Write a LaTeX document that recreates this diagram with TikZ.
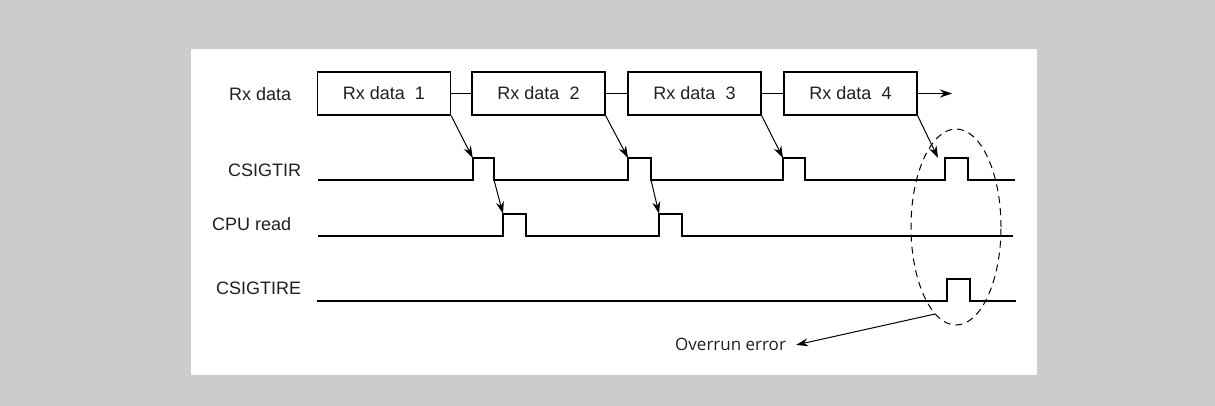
\documentclass[tikz,border=0pt]{standalone}
\usepackage{fontspec}
\setmainfont{Liberation Sans}
\newfontfamily\ovfont{Open Sans}
\usetikzlibrary{arrows.meta,shapes.geometric}
\definecolor{bggray}{RGB}{204,204,204}
\definecolor{txt}{RGB}{35,31,32}
\begin{document}
\begin{tikzpicture}[x=1pt,y=-1pt,
  lbl/.style={font=\fontsize{18}{20}\selectfont, inner sep=0pt, text=txt},
  databox/.style={draw, line width=1.2pt, minimum width=133pt, minimum height=43pt, inner sep=0pt, font=\fontsize{18}{20}\selectfont, text=txt},
  sig/.style={line width=1.9pt, line join=miter},
  link/.style={line width=1pt},
  evarrow/.style={line width=1pt, -{Stealth[length=12pt,width=8pt]}}]
\useasboundingbox (0,0) rectangle (1215,406);
\fill[bggray] (0,0) rectangle (1215,406);
\fill[white] (191,49) rectangle (1037,375);

% labels
\node[lbl, anchor=west] (lrx) at (229,94) {Rx data};
\node[lbl, anchor=west] (ltir) at (228,170) {CSIGTIR};
\node[lbl, anchor=west] (lcpu) at (212,224) {CPU read};
\node[lbl, anchor=west] (ltire) at (216,288) {CSIGTIRE};

% data boxes
\node[databox] (b1) at (384,93.5) {Rx data\ \ 1};
\node[databox] (b2) at (538.5,93.5) {Rx data\ \ 2};
\node[databox] (b3) at (694.5,93.5) {Rx data\ \ 3};
\node[databox] (b4) at (850.5,93.5) {Rx data\ \ 4};
\coordinate (bend) at (952,93.5);
\draw[link] (b1.east) -- (b2.west);
\draw[link] (b2.east) -- (b3.west);
\draw[link] (b3.east) -- (b4.west);
\draw[link, -{Stealth[length=12pt,width=8pt]}] (b4.east) -- (bend);

% CSIGTIR
\coordinate (t1r) at (472.7,158); \coordinate (t1f) at (494,180);
\coordinate (t2r) at (628,158);   \coordinate (t2f) at (651,180);
\coordinate (t3r) at (783,158);   \coordinate (t3f) at (805,180);
\coordinate (t4r) at (945,158);   \coordinate (t4f) at (968,180);
\draw[sig] (318,180) -- (472.7,180) |- (494,158) -- (t1f)
  -- (628,180) |- (651,158) -- (t2f)
  -- (783,180) |- (805,158) -- (t3f)
  -- (945,180) |- (968,158) -- (t4f) -- (1015,180);

% CPU read
\coordinate (c1r) at (503,213.7); \coordinate (c2r) at (659,213.7);
\draw[sig] (318,236) -- (503,236) |- (526,213.7) -- (526,236)
  -- (659,236) |- (682,213.7) -- (682,236) -- (1013,236);

% CSIGTIRE
\draw[sig] (317,301) -- (947,301) |- (970,279) -- (970,301) -- (1016,301);

% event arrows
\coordinate (a4) at (938,158);
\draw[evarrow] (b1.south east) -- (t1r);
\draw[evarrow] (b2.south east) -- (t2r);
\draw[evarrow] (b3.south east) -- (t3r);
\draw[evarrow] (b4.south east) -- (a4);
\draw[evarrow] (t1f) -- (c1r);
\draw[evarrow] (t2f) -- (c2r);

% overrun
\node[draw, dash pattern=on 7pt off 5pt, line width=1pt, ellipse, minimum width=90pt, minimum height=196pt, inner sep=0pt] (ov) at (956,227) {};
\node[font=\ovfont\fontsize{17}{19}\selectfont, text=txt, inner sep=0pt, anchor=base west] (ovt) at (675,350) {Overrun error};
\coordinate (ovs) at (935,314);
\draw[evarrow] (ovs) -- ([xshift=10pt,yshift=-1pt]ovt.east);
\end{tikzpicture}
\end{document}
